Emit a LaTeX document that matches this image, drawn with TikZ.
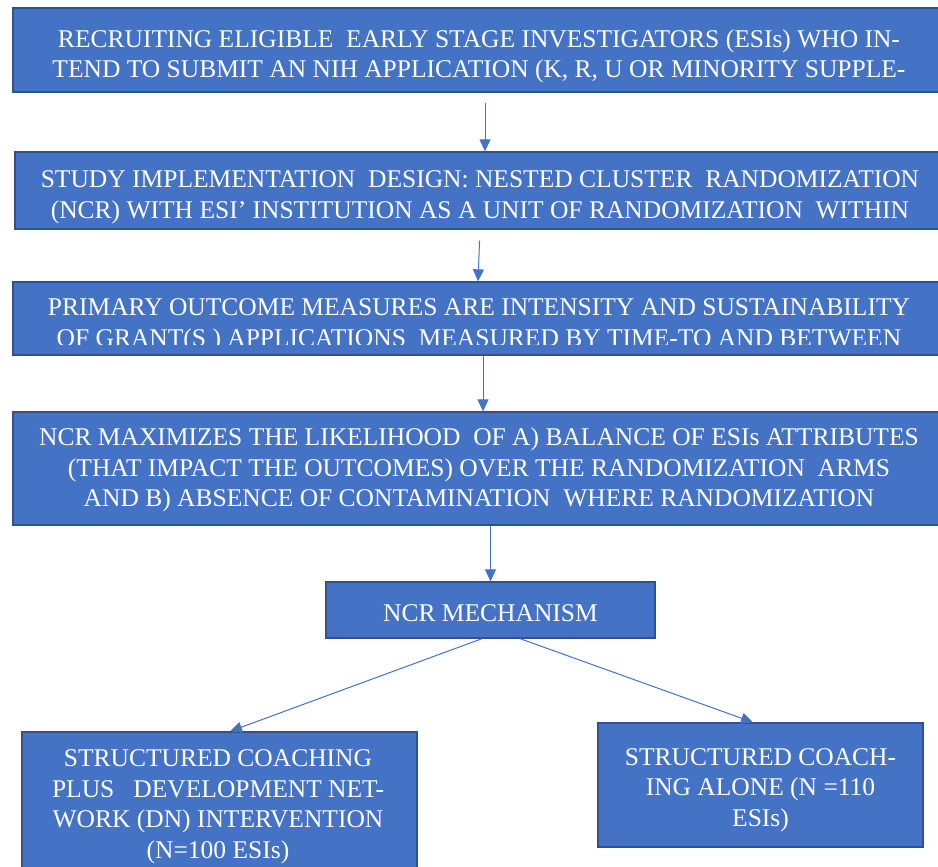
\documentclass[tikz,border=0pt]{standalone}
\usepackage{fontspec}
\setmainfont{Liberation Serif}
\usetikzlibrary{arrows.meta}
\definecolor{boxfill}{HTML}{4472C4}
\definecolor{boxline}{HTML}{2F528F}
\definecolor{arrcol}{HTML}{4472C4}
\begin{document}
\begin{tikzpicture}[x=1pt,y=-1pt,
  box/.style={draw=boxline, line width=1.3pt, fill=boxfill, inner sep=0pt},
  txt/.style={text=white, font=\fontsize{25.5}{30.5}\selectfont, align=center, inner sep=0pt,
    execute at begin node=\strut, execute at end node=\strut},
  arr/.style={draw=arrcol, line width=1pt, -{Triangle[width=11pt,length=12pt]}}]
\clip (0,0) rectangle (938,867);
% boxes
\node[box, minimum width=932pt, minimum height=84pt] (b1) at (479,50) {};
\node[box, minimum width=930pt, minimum height=77pt] (b2) at (480,190.5) {};
\node[box, minimum width=932pt, minimum height=73pt] (b3) at (479,318.5) {};
\node[box, minimum width=932pt, minimum height=113pt] (b4) at (479,468.5) {};
\node[box, minimum width=329pt, minimum height=56pt] (b5) at (490.5,610) {};
\node[box, minimum width=395pt, minimum height=158pt] (b6) at (219.5,811) {};
\node[box, minimum width=325pt, minimum height=124pt] (b7) at (760.5,785) {};
% texts
\begin{scope}
\clip ([yshift=-3pt]b1.north west) rectangle ([yshift=4pt]b1.south east);
\node[txt] (t1) at (479,58) {RECRUITING ELIGIBLE~ EARLY STAGE INVESTIGATORS (ESIs) WHO IN-\\TEND TO SUBMIT AN NIH APPLICATION (K, R, U OR MINORITY SUPPLE-};
\end{scope}
\begin{scope}
\clip ([yshift=-3pt]b2.north west) rectangle ([yshift=5pt]b2.south east);
\node[txt] (t2) at (480,199) {STUDY IMPLEMENTATION~ DESIGN: NESTED CLUSTER~ RANDOMIZATION\\(NCR) WITH ESI’ INSTITUTION AS A UNIT OF RANDOMIZATION~ WITHIN};
\end{scope}
\begin{scope}
\clip ([yshift=-3pt]b3.north west) rectangle ([yshift=11pt]b3.south east);
\node[txt] (t3) at (479,327) {PRIMARY OUTCOME MEASURES ARE INTENSITY AND SUSTAINABILITY\\OF GRANT(S ) APPLICATIONS~ MEASURED BY TIME-TO AND BETWEEN};
\end{scope}
\node[txt] (t4) at (479,472) {NCR MAXIMIZES THE LIKELIHOOD~ OF A) BALANCE OF ESIs ATTRIBUTES\\(THAT IMPACT THE OUTCOMES) OVER THE RANDOMIZATION~ ARMS\\AND B) ABSENCE OF CONTAMINATION~ WHERE RANDOMIZATION};
\node[txt] (t5) at (490.5,615) {NCR MECHANISM};
\node[txt] (t6) at (218,808.5) {STRUCTURED COACHING\\PLUS~~ DEVELOPMENT NET-\\WORK (DN) INTERVENTION\\(N=100 ESIs)};
\node[txt] (t7) at (760.5,792) {STRUCTURED COACH-\\ING ALONE (N =110\\ESIs)};
% connectors
\draw[arr, shorten <=10pt] ([xshift=6pt]b1.south) -- ([xshift=5pt]b2.north);
\draw[arr, shorten <=11pt] (b2.south) -- ([xshift=-1pt]b3.north);
\draw[arr] ([xshift=4pt]b3.south) -- ([xshift=4pt]b4.north);
\draw[arr] ([xshift=11.5pt]b4.south) -- (b5.north);
\draw[arr] ([xshift=-8.5pt]b5.south) -- ([xshift=10.5pt]b6.north);
\draw[arr] ([xshift=29.5pt]b5.south) -- ([xshift=-7.5pt]b7.north);
\end{tikzpicture}
\end{document}
